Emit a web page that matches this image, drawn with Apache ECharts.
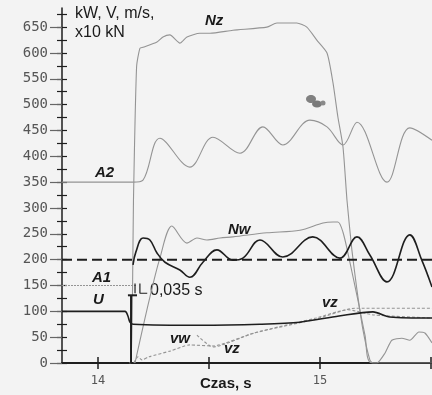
<!DOCTYPE html>
<html>
<head>
<meta charset="utf-8">
<script src="https://cdn.jsdelivr.net/npm/echarts@6/dist/echarts.min.js"></script>
<style>
  html, body { margin: 0; background: #f3f3f3; }
  #chart { width: 432px; height: 395px; }
</style>
</head>
<body>
<div id="chart"></div>
<script>
// axis ticks / labels
const xTicks = [14, 14.5, 15, 15.5];
const xLabels = [14, 15];
const yLabels = [0, 50, 100, 150, 200, 250, 300, 350, 400, 450, 500, 550, 600, 650];
const yTicks = [0, 25, 50, 75, 100, 125, 150, 175, 200, 225, 250, 275, 300, 325, 350, 375,
  400, 425, 450, 475, 500, 525, 550, 575, 600, 625, 650, 675];

// series, [time s, value]
const nz = [
  [14.140, 0], [14.149, 0], [14.156, 150], [14.160, 315], [14.174, 573], [14.189, 609],
  [14.203, 611], [14.266, 621], [14.293, 631], [14.324, 635], [14.369, 619], [14.401, 631],
  [14.459, 638], [14.505, 638], [14.608, 644], [14.761, 650], [14.806, 658], [14.896, 658],
  [14.941, 650], [14.986, 625], [15.032, 600], [15.059, 542], [15.081, 476], [15.104, 418],
  [15.122, 315], [15.144, 219], [15.167, 141], [15.194, 64], [15.225, 6], [15.239, 0],
  [15.257, 0], [15.293, 19], [15.324, 44], [15.369, 48], [15.405, 44], [15.446, 60],
  [15.473, 58], [15.505, 39]
];
const a2 = [
  [13.838, 350], [14.158, 350], [14.203, 354], [14.279, 435], [14.414, 379], [14.518, 437],
  [14.640, 406], [14.743, 457], [14.833, 422], [14.955, 470], [15.032, 457], [15.104, 422],
  [15.167, 466], [15.302, 350], [15.405, 455], [15.505, 431]
];
const nw = [
  [14.167, 0], [14.230, 120], [14.279, 203], [14.333, 265], [14.401, 232], [14.446, 242],
  [14.491, 238], [14.550, 242], [14.608, 244], [14.761, 252], [14.910, 257], [15.014, 271],
  [15.059, 273], [15.081, 273], [15.104, 253], [15.135, 195], [15.171, 122], [15.203, 54],
  [15.234, 0], [15.505, 0]
];
const wave = [
  [14.158, 190], [14.171, 215], [14.203, 242], [14.234, 238], [14.266, 213], [14.302, 195],
  [14.369, 180], [14.414, 166], [14.473, 195], [14.536, 219], [14.608, 199], [14.653, 203],
  [14.730, 238], [14.833, 205], [14.968, 244], [15.090, 203], [15.167, 244], [15.225, 209],
  [15.302, 157], [15.405, 248], [15.459, 199], [15.505, 147]
];
const u = [
  [13.838, 100], [14.122, 100], [14.135, 91], [14.144, 79], [14.158, 75], [14.459, 73],
  [14.730, 75], [14.910, 79], [15.086, 91], [15.239, 99], [15.315, 89], [15.505, 87]
];
const vw = [
  [14.162, 0], [14.180, 12], [14.198, 6], [14.230, 12], [14.324, 23], [14.414, 35],
  [14.518, 33], [14.703, 58], [14.982, 85], [15.158, 106], [15.505, 106]
];
const vz = [
  [14.446, 54], [14.518, 31], [14.703, 58], [14.982, 87], [15.126, 103], [15.243, 93],
  [15.505, 87]
];
const limit = [[13.838, 200], [15.505, 200]];
const a1 = [[13.838, 150], [14.176, 150]];
const switchLine = [[14.149, 0], [14.149, 131]];
const switchBar = [[14.135, 131], [14.176, 131]];
const delayLeft = [[14.167, 135], [14.167, 154]];
const delayRight = [[14.189, 135], [14.189, 154], [14.189, 135], [14.222, 135]];

const gray = '#949494';
const dark = '#1e1e1e';

function line(data, color, width, extra) {
  return Object.assign({
    type: 'line', data: data, symbol: 'none', showSymbol: false,
    lineStyle: { color: color, width: width }, silent: true
  }, extra || {});
}

const chart = echarts.init(document.getElementById('chart'));

const txt = (text, x, y, font, fill) => ({
  type: 'text', x: x, y: y, silent: true,
  style: { text: text, font: font, fill: fill || '#1a1a1a' }
});
const lab = "italic bold 15px 'Liberation Sans', Arial, sans-serif";

chart.setOption({
  animation: false,
  backgroundColor: '#f3f3f3',
  grid: { left: 62, right: 0, top: 8, bottom: 32 },
  xAxis: [
    {
      type: 'value', min: 13.838, max: 15.505, position: 'bottom',
      axisLine: { lineStyle: { color: dark, width: 2 } },
      axisTick: { customValues: xTicks, length: 6, lineStyle: { color: dark, width: 1.5 } },
      axisLabel: { customValues: xLabels, margin: 12, color: '#555', fontFamily: 'DejaVu Sans Mono', fontSize: 12 },
      splitLine: { show: false }
    },
    {
      type: 'value', min: 13.838, max: 15.505, position: 'bottom',
      axisLine: { show: false },
      axisTick: { customValues: xTicks, inside: true, length: 6, lineStyle: { color: dark, width: 1.5 } },
      axisLabel: { show: false },
      splitLine: { show: false }
    }
  ],
  yAxis: [
    {
      type: 'value', min: 0, max: 687, position: 'left',
      axisLine: { show: true, lineStyle: { color: dark, width: 1.5 } },
      axisTick: { show: true, customValues: yTicks, length: 5, lineStyle: { color: dark, width: 1.2 } },
      axisLabel: { customValues: yLabels, margin: 14, color: '#555', fontFamily: 'DejaVu Sans Mono', fontSize: 14 },
      splitLine: { show: false }
    },
    {
      type: 'value', min: 0, max: 687, position: 'left',
      axisLine: { show: false },
      axisTick: { show: true, customValues: yLabels, length: 12, lineStyle: { color: '#666', width: 1.2 } },
      axisLabel: { show: false },
      splitLine: { show: false }
    },
    {
      type: 'value', min: 0, max: 687, position: 'left',
      axisLine: { show: false },
      axisTick: { show: true, customValues: yTicks, inside: true, length: 5, lineStyle: { color: dark, width: 1.2 } },
      axisLabel: { show: false },
      splitLine: { show: false }
    }
  ],
  series: [
    line(a2, gray, 1.1, { smooth: 0.35 }),
    line(nz, gray, 1.1, { smooth: 0.2 }),
    line(nw, gray, 1.1, { smooth: 0.3 }),
    line(vw, gray, 1.1, { smooth: 0.2, lineStyle: { color: gray, width: 1.1, type: [3, 2] } }),
    line(vz, gray, 1.1, { smooth: 0.2, lineStyle: { color: gray, width: 1.1, type: [3, 2] } }),
    line(a1, gray, 1.1, { lineStyle: { color: gray, width: 1.1, type: [2, 1] } }),
    line(limit, dark, 2, { lineStyle: { color: dark, width: 2, type: [10, 5] } }),
    line(wave, dark, 1.6, { smooth: 0.4 }),
    line(u, dark, 1.6, { smooth: 0.3 }),
    line(switchLine, dark, 2),
    line(switchBar, dark, 2),
    line(delayLeft, dark, 1.2),
    line(delayRight, dark, 1.2)
  ],
  graphic: [
    txt('kW, V, m/s,', 75, 6, "16px 'Liberation Sans', Arial, sans-serif"),
    txt('x10 kN', 75, 25, "16px 'Liberation Sans', Arial, sans-serif"),
    txt('Nz', 205, 13, lab),
    txt('A2', 95, 165, lab),
    txt('Nw', 228, 222, lab),
    txt('A1', 92, 270, lab),
    txt('U', 93, 292, lab),
    txt('0,035 s', 150, 283, "16px 'Liberation Sans', Arial, sans-serif"),
    txt('vz', 322, 295, lab),
    txt('vw', 170, 331, lab),
    txt('vz', 224, 341, lab),
    txt('Czas, s', 200, 376, "bold 15px 'Liberation Sans', Arial, sans-serif"),
    { type: 'ellipse', silent: true, shape: { cx: 311, cy: 99, rx: 5, ry: 4 }, style: { fill: '#808080' } },
    { type: 'ellipse', silent: true, shape: { cx: 317, cy: 104, rx: 5, ry: 3.5 }, style: { fill: '#7a7a7a' } },
    { type: 'circle', silent: true, shape: { cx: 323, cy: 103, r: 2.5 }, style: { fill: '#8a8a8a' } }
  ]
});
</script>
</body>
</html>
